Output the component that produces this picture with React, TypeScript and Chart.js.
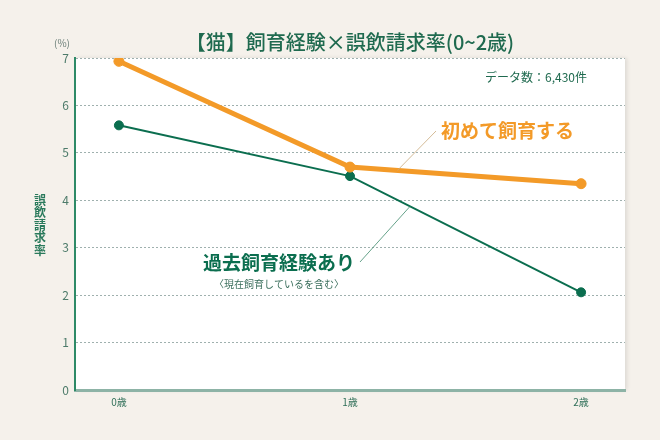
import React, { useEffect, useRef } from "react";
import { Chart, registerables } from "chart.js";

Chart.register(...registerables);

const categories = ["0歳", "1歳", "2歳"];
const firstTimeValues = [6.93, 4.7, 4.35];
const experiencedValues = [5.58, 4.51, 2.06];
const yTicks = [0, 1, 2, 3, 4, 5, 6, 7];

const titleText = "【猫】飼育経験×誤飲請求率(0~2歳)";
const countText = "データ数：6,430件";
const unitText = "(%)";
const yTitleChars = ["誤", "飲", "請", "求", "率"];
const firstTimeLabel = "初めて飼育する";
const experiencedLabel = "過去飼育経験あり";
const experiencedSub = "〈現在飼育しているを含む〉";

const FONT = '"Noto Sans CJK JP", "Noto Sans", sans-serif';
const BG = "#f5f1eb";
const ORANGE = "#f39a28";
const GREEN = "#0b6e4f";
const TEXT_GREEN = "#1f6a4f";

function lineYAt(chart: any, dsIndex: number, xv: number) {
  const meta = chart.getDatasetMeta(dsIndex);
  const xs = chart.scales.x;
  const px = xs.getPixelForValue(xv);
  const pts = meta.data;
  for (let i = 0; i < pts.length - 1; i++) {
    const a = pts[i], b = pts[i + 1];
    if (px >= a.x && px <= b.x) {
      const t = (px - a.x) / (b.x - a.x);
      return { x: px, y: a.y + t * (b.y - a.y) };
    }
  }
  return { x: px, y: pts[0].y };
}

const decorPlugin = {
  id: "decor",
  beforeDraw(chart: any) {
    const { ctx, chartArea } = chart;
    ctx.save();
    ctx.fillStyle = BG;
    ctx.fillRect(0, 0, chart.width, chart.height);
    ctx.shadowColor = "rgba(0,0,0,0.10)";
    ctx.shadowBlur = 4;
    ctx.shadowOffsetX = 2;
    ctx.fillStyle = "#ffffff";
    ctx.fillRect(chartArea.left, chartArea.top, chartArea.right - chartArea.left, chartArea.bottom - chartArea.top);
    ctx.restore();
  },
  afterDraw(chart: any) {
    const { ctx } = chart;
    ctx.save();
    // title
    ctx.fillStyle = TEXT_GREEN;
    ctx.textAlign = "center";
    ctx.textBaseline = "middle";
    ctx.font = `500 20px ${FONT}`;
    ctx.fillText(titleText, 350, 42);
    // unit
    ctx.fillStyle = "#6b7f78";
    ctx.font = `10px ${FONT}`;
    ctx.fillText(unitText, 62, 43);
    // count
    ctx.fillStyle = TEXT_GREEN;
    ctx.textAlign = "right";
    ctx.font = `12px ${FONT}`;
    ctx.fillText(countText, 587, 77);
    // y title
    ctx.textAlign = "center";
    ctx.font = `bold 12px ${FONT}`;
    ctx.fillStyle = "#2a7a5c";
    yTitleChars.forEach((c, i) => ctx.fillText(c, 40, 200 + i * 12.5));

    // leader lines
    const oEnd = lineYAt(chart, 0, 1.205);
    ctx.strokeStyle = "#c9aa7c";
    ctx.lineWidth = 0.8;
    ctx.beginPath();
    ctx.moveTo(436, 131);
    ctx.lineTo(oEnd.x, oEnd.y);
    ctx.stroke();

    const gEnd = lineYAt(chart, 1, 1.26);
    ctx.strokeStyle = "#3f8a6c";
    ctx.beginPath();
    ctx.moveTo(360, 262);
    ctx.lineTo(gEnd.x, gEnd.y);
    ctx.stroke();

    // annotation labels
    ctx.textAlign = "left";
    ctx.fillStyle = ORANGE;
    ctx.font = `bold 19px ${FONT}`;
    ctx.fillText(firstTimeLabel, 441, 131);
    ctx.fillStyle = GREEN;
    ctx.fillText(experiencedLabel, 203, 263);
    ctx.textAlign = "center";
    ctx.fillStyle = "#3a6e5c";
    ctx.font = `10px ${FONT}`;
    ctx.fillText(experiencedSub, 279, 284);
    ctx.restore();
  },
};

export default function App() {
  const ref = useRef<HTMLCanvasElement | null>(null);
  useEffect(() => {
    document.body.style.margin = "0";
    document.body.style.background = BG;
    const canvas = ref.current!;
    const chart = new Chart(canvas, {
      type: "line",
      data: {
        datasets: [
          {
            label: firstTimeLabel,
            data: firstTimeValues.map((v, i) => ({ x: i, y: v })),
            borderColor: ORANGE,
            backgroundColor: ORANGE,
            pointBackgroundColor: ORANGE,
            pointBorderColor: ORANGE,
            borderWidth: 5,
            pointRadius: 5,
            pointBorderWidth: 1,
            tension: 0,
            order: 0,
          },
          {
            label: experiencedLabel,
            data: experiencedValues.map((v, i) => ({ x: i, y: v })),
            borderColor: GREEN,
            backgroundColor: GREEN,
            pointBackgroundColor: GREEN,
            pointBorderColor: GREEN,
            borderWidth: 2,
            pointRadius: 4.5,
            pointBorderWidth: 1,
            tension: 0,
            order: 1,
          },
        ],
      },
      options: {
        animation: false,
        responsive: false,
        devicePixelRatio: 1,
        layout: { padding: { top: 58, right: 35, left: 0, bottom: 0 } },
        plugins: { legend: { display: false }, tooltip: { enabled: false }, title: { display: false } },
        scales: {
          x: {
            type: "linear",
            min: -0.19,
            max: 2.19,
            afterFit: (s: any) => { s.height = 50; },
            grid: { display: false, drawTicks: false },
            border: { display: true, color: "#8db3a6", width: 3 },
            ticks: {
              stepSize: 1,
              includeBounds: false,
              padding: 6,
              color: "#2f6f58",
              font: { family: FONT, size: 10 },
              callback: (v: any) => (Number.isInteger(v) ? categories[v] ?? "" : ""),
            },
          },
          y: {
            min: 0,
            max: 7,
            afterFit: (s: any) => { s.width = 75; },
            afterBuildTicks: (s: any) => { s.ticks = yTicks.map((v) => ({ value: v })); },
            grid: { color: "#9fb0ae", lineWidth: 1, drawTicks: false },
            border: { display: true, color: "#2e8a67", width: 2, dash: [2, 2] },
            ticks: {
              padding: 6,
              color: "#4d7b6a",
              font: { family: FONT, size: 12 },
            },
          },
        },
      },
      plugins: [decorPlugin],
    } as any);
    return () => chart.destroy();
  }, []);
  return <canvas ref={ref} width={660} height={440} style={{ display: "block" }} />;
}
